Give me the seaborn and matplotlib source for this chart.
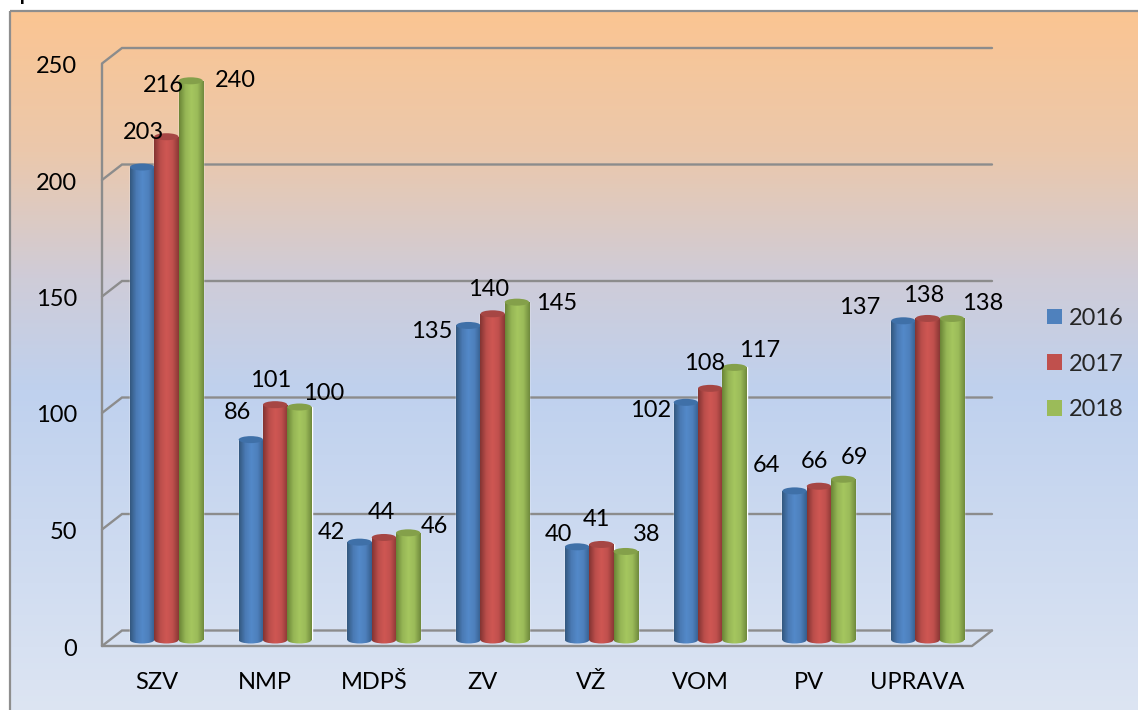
import matplotlib
matplotlib.use("Agg")
import matplotlib.pyplot as plt
from matplotlib.colors import LinearSegmentedColormap
from matplotlib.patches import Ellipse, Rectangle
from matplotlib.transforms import ScaledTranslation
import numpy as np
import pandas as pd
import seaborn as sns

categories = ["SZV", "NMP", "MDPŠ", "ZV", "VŽ", "VOM", "PV", "UPRAVA"]
years = ["2016", "2017", "2018"]
values_2016 = [203, 86, 42, 135, 40, 102, 64, 137]
values_2017 = [216, 101, 44, 140, 41, 108, 66, 138]
values_2018 = [240, 100, 46, 145, 38, 117, 69, 138]
y_ticks = [0, 50, 100, 150, 200, 250]

# label offsets from bar top centre, in pixels (dx, dy up)
offsets_2016 = [(1, 35), (-13, 27), (-28, 10), (-37, -6), (-19, 12), (-35, -8), (-28, 25), (-44, 13)]
offsets_2017 = [(-3, 51), (-4, 24), (-3, 25), (-4, 24), (-5, 25), (-6, 25), (-4, 25), (-4, 23)]
offsets_2018 = [(45, 0), (24, 14), (26, 6), (40, -1), (21, 17), (25, 17), (11, 22), (31, 15)]

W, H, DPI = 1138, 710, 100
FS = 17
sns.set_theme(style="white")
plt.rcParams["font.family"] = ["Lato", "DejaVu Sans"]
fig = plt.figure(figsize=(W / DPI, H / DPI), dpi=DPI, facecolor="white")

# background panel with gradient
bg = fig.add_axes([0, 0, 1, 1], zorder=0)
bg.set_xlim(0, W); bg.set_ylim(H, 0); bg.axis("off")
panel_cmap = LinearSegmentedColormap.from_list("panel", [
    (0.0, "#FBC592"), (0.2, "#EBC8AC"), (0.38, "#CFCCD8"), (0.54, "#BFD1EE"), (1.0, "#DDE5F3")])
bg.imshow(np.linspace(0, 1, 256)[:, None], cmap=panel_cmap, aspect="auto",
          extent=(10, W + 3, H + 3, 11), vmin=0, vmax=1)
bg.add_patch(Rectangle((10, 11), W, H, fill=False, ec="#8E8E8E", lw=1.6))
bg.set_xlim(0, W); bg.set_ylim(H, 0)

# main axes: x -0.5 at px 112, 7.5 at px 982; y 0 at px 640, 250 at px 57.5
ax = fig.add_axes([112 / W, (H - 640) / H, 870 / W, 582.5 / H], zorder=1)
ax.patch.set_alpha(0)

df = pd.DataFrame({
    "cat": categories * 3,
    "year": np.repeat(years, len(categories)),
    "val": values_2016 + values_2017 + values_2018,
})
palette = {"2016": "#4F81BD", "2017": "#C0504D", "2018": "#9BBB59"}
sns.barplot(data=df, x="cat", y="val", hue="year", hue_order=years, order=categories,
            palette=palette, width=0.67, gap=0, saturation=1, dodge=True, ax=ax, errorbar=None, zorder=3)
ax.set_xlim(-0.5, 7.5)
ax.set_ylim(0, 250)
ax.set_xlabel(""); ax.set_ylabel("")
for s in ax.spines.values():
    s.set_visible(False)

px_x = 8 / 870  # one pixel in x data units
px_y = 250 / 582.5
GRID = "#8C8C8C"
LW = 1.7
x0, x1 = -0.5, 7.5
for v in y_ticks:
    ax.plot([x0 - 10 * px_x, x0 + 10 * px_x, x1 + 10 * px_x],
            [v - 6 * px_y, v + 9.5 * px_y, v + 9.5 * px_y],
            color=GRID, lw=LW, clip_on=False, zorder=1, solid_joinstyle="miter")
ax.plot([x0 - 10 * px_x, x0 - 10 * px_x], [-6 * px_y, 250 - 6 * px_y], color=GRID, lw=LW, clip_on=False, zorder=1)
ax.plot([x0 - 10 * px_x, x1 - 10 * px_x, x1 + 10 * px_x],
        [-6 * px_y, -6 * px_y, 9.5 * px_y], color=GRID, lw=LW, clip_on=False, zorder=1)

# cylinder shading
shades = {
    "2016": (["#33587F", "#4A7AB4", "#5389C9", "#4E80BC", "#365E8E"], "#3F70A8"),
    "2017": (["#833432", "#BB4E4B", "#CF5753", "#C0504D", "#8A3735"], "#A64644"),
    "2018": (["#6A8436", "#95B555", "#A5C65F", "#9BBB59", "#6F8A3D"], "#84A04A"),
}
all_offsets = offsets_2016 + offsets_2017 + offsets_2018
ell_h = 7 * px_y
bars = [p for p in ax.patches if isinstance(p, Rectangle) and p.get_height() > 0]
for i, (bar, off) in enumerate(zip(bars, all_offsets)):
    yr = years[i // len(categories)]
    cols, top = shades[yr]
    cm = LinearSegmentedColormap.from_list(yr, cols)
    x, w, h = bar.get_x(), bar.get_width(), bar.get_height()
    z = 3 + (i // len(categories)) * 0.1 + 0.01
    im = ax.imshow(np.linspace(0, 1, 64)[None, :], cmap=cm, aspect="auto",
                   extent=(x, x + w, 0, h), zorder=z)
    im.set_clip_path(bar)
    low = Ellipse((x + w / 2, 0), w, ell_h, fc="none", ec="none", zorder=z, clip_on=False)
    ax.add_patch(low)
    im2 = ax.imshow(np.linspace(0, 1, 64)[None, :], cmap=cm, aspect="auto",
                    extent=(x, x + w, -ell_h, ell_h), zorder=z)
    im2.set_clip_path(low)
    im2.set_clip_box(fig.bbox)
    ax.add_patch(Ellipse((x + w / 2, h), w, ell_h, fc=top, ec="none", zorder=z + 0.01, clip_on=False))
    ax.annotate(str(int(h)), (x + w / 2, h), xytext=(off[0] * 0.72, off[1] * 0.72),
                textcoords="offset points", ha="center", va="center",
                fontsize=FS, color="black", zorder=6, annotation_clip=False)
ax.set_xlim(-0.5, 7.5)
ax.set_ylim(0, 250)

# ticks
ax.set_yticks(y_ticks)
ax.tick_params(axis="both", length=0, labelsize=FS, labelcolor="black")
ax.tick_params(axis="y", pad=25)
ax.tick_params(axis="x", pad=23)
ax.set_xticks(range(len(categories)))
ax.set_xticklabels(categories)
yshift = ScaledTranslation(0, -7 / DPI, fig.dpi_scale_trans)
xshift = ScaledTranslation(-10 / DPI, 0, fig.dpi_scale_trans)
for lb in ax.get_xticklabels():
    lb.set_transform(lb.get_transform() + xshift)
for lb in ax.get_yticklabels():
    lb.set_transform(lb.get_transform() + yshift)

# legend
handles = [Rectangle((0, 0), 1, 1, fc=palette[y], ec="none") for y in years]
ax.legend(handles, years, loc="center left", bbox_to_anchor=(1047 / W, (H - 364) / H),
          bbox_transform=fig.transFigure, frameon=False, fontsize=FS,
          handlelength=0.64, handleheight=0.64, handletextpad=0.3, labelspacing=1.05,
          borderpad=0, borderaxespad=0)

# cut-off title remnant at the top edge
fig.text(19 / W, 1 + 1 / H, "p", fontsize=20, ha="left", va="baseline", color="black")

fig.savefig("out.png", dpi=DPI)
